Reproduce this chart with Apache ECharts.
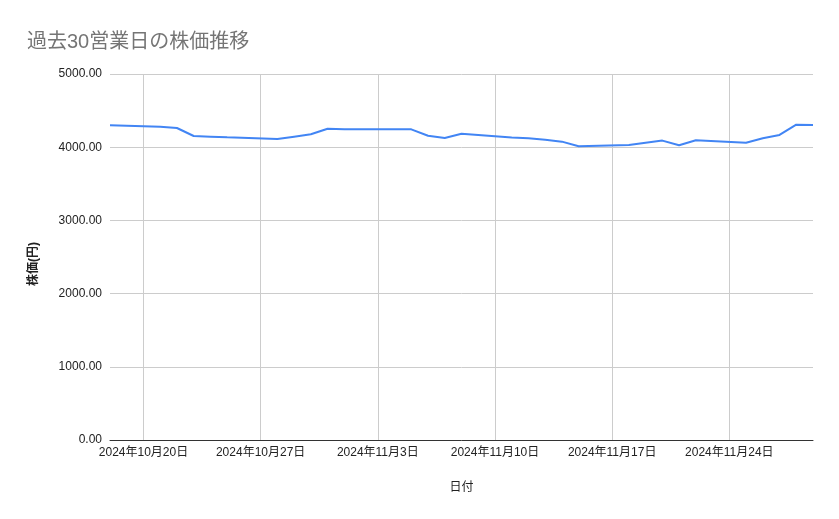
<!DOCTYPE html>
<html><head><meta charset="utf-8">
<script src="https://cdn.jsdelivr.net/npm/echarts@6/dist/echarts.min.js"></script>
<style>html,body{margin:0;padding:0;background:#fff}#c{width:839px;height:519px}</style>
</head><body><div id="c"></div>
<script>
const dates = ['2024-10-18','2024-10-21','2024-10-22','2024-10-23','2024-10-24','2024-10-25',
  '2024-10-28','2024-10-29','2024-10-30','2024-10-31','2024-11-01',
  '2024-11-05','2024-11-06','2024-11-07','2024-11-08',
  '2024-11-11','2024-11-12','2024-11-13','2024-11-14','2024-11-15',
  '2024-11-18','2024-11-19','2024-11-20','2024-11-21','2024-11-22',
  '2024-11-25','2024-11-26','2024-11-27','2024-11-28','2024-11-29'];
const prices = [4299,4281,4262,4153,4144,4135,
  4112,4144,4176,4253,4244,
  4244,4157,4126,4185,
  4132,4121,4103,4076,4012,
  4030,4062,4090,4026,4094,
  4062,4121,4167,4308,4303];
const tickDates = ['2024-10-20','2024-10-27','2024-11-03','2024-11-10','2024-11-17','2024-11-24'];
const xRange = ['2024-10-18','2024-11-29'];
const yMin = 0, yMax = 5000, yStep = 1000;
const titleText = '過去30営業日の株価推移';
const xName = '日付';
const yName = '株価(円)';

const FONT = "'Liberation Sans', Arial, 'Noto Sans CJK JP', sans-serif";
const DAY = 86400000;
function t(s){ const [y,m,d] = s.split('-').map(Number); return Math.round(Date.UTC(y, m-1, d) / DAY); }
function fmt(v){ const d = new Date(Math.round(v) * DAY); return d.getUTCFullYear() + '年' + (d.getUTCMonth()+1) + '月' + d.getUTCDate() + '日'; }
const tickVals = tickDates.map(t);

const chart = echarts.init(document.getElementById('c'), null, {renderer:'canvas'});
chart.setOption({
  animation: false,
  backgroundColor: '#fff',
  textStyle: { fontFamily: FONT },
  title: {
    text: titleText, left: 22, top: 27,
    textStyle: { fontSize: 20, fontWeight: 'normal', color: '#757575', fontFamily: FONT }
  },
  grid: { left: 110, right: 26, top: 74, bottom: 79, containLabel: false },
  xAxis: {
    type: 'value',
    min: t(xRange[0]), max: t(xRange[1]),
    name: xName, nameLocation: 'middle', nameGap: 42,
    nameTextStyle: { fontSize: 12, color: '#222', fontFamily: FONT },
    axisLine: { show: true, onZero: false, lineStyle: { color: '#333', width: 1 } },
    axisTick: { show: false, customValues: tickVals },
    axisLabel: { customValues: tickVals, formatter: fmt, fontSize: 12, color: '#222', margin: 7, fontFamily: FONT, hideOverlap: false, showMinLabel: true, showMaxLabel: true },
    splitLine: { show: true, lineStyle: { color: '#cccccc', width: 1 } }
  },
  yAxis: {
    type: 'value', min: yMin, max: yMax, interval: yStep,
    name: yName, nameLocation: 'middle', nameGap: 70, nameRotate: 90,
    nameTextStyle: { fontSize: 12, color: '#222', fontWeight: 'bold', fontFamily: FONT, padding: [0, 14, 0, 0] },
    axisLine: { show: false },
    axisTick: { show: false },
    axisLabel: { formatter: v => v.toFixed(2), fontSize: 12, color: '#222', margin: 8, fontFamily: FONT },
    splitLine: { show: true, lineStyle: { color: '#cccccc', width: 1 } }
  },
  series: [{
    type: 'line',
    data: dates.map((d, i) => [t(d), prices[i]]),
    showSymbol: false,
    symbol: 'none',
    lineStyle: { color: '#4285F4', width: 2 },
    itemStyle: { color: '#4285F4' }
  }]
});
</script>
</body></html>
